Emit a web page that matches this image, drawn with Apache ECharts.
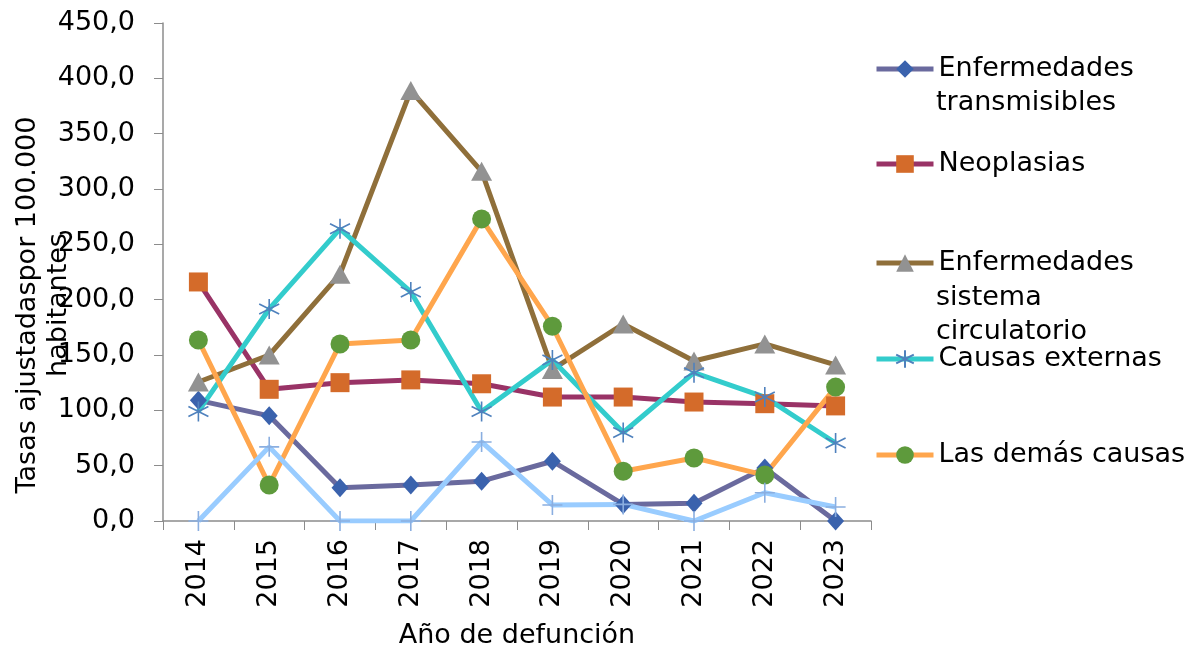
<!DOCTYPE html>
<html>
<head>
<meta charset="utf-8">
<script src="https://cdn.jsdelivr.net/npm/echarts@6/dist/echarts.min.js"></script>
<style>html,body{margin:0;padding:0;background:#fff}#c{width:1198px;height:646px}</style>
</head>
<body>
<div id="c"></div>
<script>
var years = ['2014','2015','2016','2017','2018','2019','2020','2021','2022','2023'];
var transmisibles = [109, 95, 30, 32.5, 36, 54, 15, 16, 48, 0];
var neoplasias = [216, 119, 125, 127.5, 124, 112, 112, 107.5, 106, 104];
var circulatorio = [125.6, 150, 223, 389, 316, 137, 178, 144.6, 160, 141];
var externas = [99, 191.6, 264, 207, 99, 145.5, 80, 134, 112, 70.5];
var demas = [163.5, 32.5, 160, 163.5, 273, 176, 45, 57, 41.5, 121];
var otra = [0, 67, 0, 0, 71.4, 14.5, 15, 0, 25.5, 12.6];

var FONT = 'DejaVu Sans';
var chart = echarts.init(document.getElementById('c'));
var starPath = 'path://M10,0 L10,20 M1.34,5 L18.66,15 M1.34,15 L18.66,5';
var plusPath = 'path://M10,0 L10,20 M0,10 L20,10';

var firstLine = {
  'Enfermedades transmisibles': 'Enfermedades',
  'Enfermedades sistema circulatorio': 'Enfermedades'
};

function legendAt(name, top) {
  return {
    data: [name], left: 874, top: top, orient: 'vertical',
    itemWidth: 57, itemHeight: 22, itemGap: 0, padding: 0,
    lineStyle: {width: 5},
    textStyle: {fontFamily: FONT, fontSize: 27, color: '#000', lineHeight: 34},
    formatter: function (n) { return firstLine[n] || n; },
    selectedMode: false
  };
}

var option = {
  backgroundColor: '#fff',
  animation: false,
  grid: {left: 163, top: 23, right: 327, bottom: 125, containLabel: false, outerBoundsMode: 'none'},
  legend: [
    legendAt('Enfermedades transmisibles', 52),
    legendAt('Neoplasias', 147),
    legendAt('Enfermedades sistema circulatorio', 246),
    legendAt('Causas externas', 342),
    legendAt('Las demás causas', 438)
  ],
  graphic: [
    {type: 'text', left: 936, top: 89, style: {text: 'transmisibles', font: '27px "DejaVu Sans"', fill: '#000'}},
    {type: 'text', left: 936, top: 284, style: {text: 'sistema', font: '27px "DejaVu Sans"', fill: '#000'}},
    {type: 'text', left: 936, top: 318, style: {text: 'circulatorio', font: '27px "DejaVu Sans"', fill: '#000'}}
  ],
  xAxis: {
    type: 'category', data: years, boundaryGap: true,
    name: 'Año de defunción', nameLocation: 'middle', nameGap: 101,
    nameTextStyle: {fontFamily: FONT, fontSize: 27, color: '#000'},
    axisLine: {lineStyle: {color: '#8c8c8c', width: 1.5}},
    axisTick: {show: true, length: 9, lineStyle: {color: '#8c8c8c'}},
    axisLabel: {rotate: 90, margin: 18, fontFamily: FONT, fontSize: 27, color: '#000'},
    splitLine: {show: false}
  },
  yAxis: {
    type: 'value', min: 0, max: 450, interval: 50,
    name: 'Tasas ajustadaspor 100.000\nhabitantes', nameLocation: 'middle', nameGap: 89,
    nameMoveOverlap: false,
    nameTextStyle: {fontFamily: FONT, fontSize: 27, color: '#000', lineHeight: 31, padding: [0, 66, 0, 0]},
    axisLine: {show: true, lineStyle: {color: '#8c8c8c', width: 1.5}},
    axisTick: {show: true, length: 9, lineStyle: {color: '#8c8c8c'}},
    axisLabel: {margin: 28, fontFamily: FONT, fontSize: 27, color: '#000',
      formatter: function (v) { return v.toFixed(1).replace('.', ','); }},
    splitLine: {show: false}
  },
  series: [
    {name: 'Enfermedades transmisibles', type: 'line', data: transmisibles,
     symbol: 'diamond', symbolSize: [17, 19], lineStyle: {color: '#6a6a9e', width: 5},
     itemStyle: {color: '#3a62ad'}},
    {name: 'Neoplasias', type: 'line', data: neoplasias,
     symbol: 'rect', symbolSize: 19, lineStyle: {color: '#993366', width: 5},
     itemStyle: {color: '#d46b2a'}},
    {name: 'Enfermedades sistema circulatorio', type: 'line', data: circulatorio,
     symbol: 'triangle', symbolSize: [21, 19], lineStyle: {color: '#8f6f3a', width: 5},
     itemStyle: {color: '#929292'}},
    {name: 'Causas externas', type: 'line', data: externas,
     symbol: starPath, symbolSize: 20, lineStyle: {color: '#33cccc', width: 5},
     itemStyle: {color: 'none', borderColor: '#4f81bd', borderWidth: 1.6}},
    {name: 'Las demás causas', type: 'line', data: demas,
     symbol: 'circle', symbolSize: 19, lineStyle: {color: '#ffa64d', width: 5},
     itemStyle: {color: '#5e9a3c'}},
    {name: 'Otras', type: 'line', data: otra,
     symbol: plusPath, symbolSize: 20, lineStyle: {color: '#99ccff', width: 5},
     itemStyle: {color: 'none', borderColor: '#8aaee0', borderWidth: 1.6}}
  ]
};
chart.setOption(option);
</script>
</body>
</html>
